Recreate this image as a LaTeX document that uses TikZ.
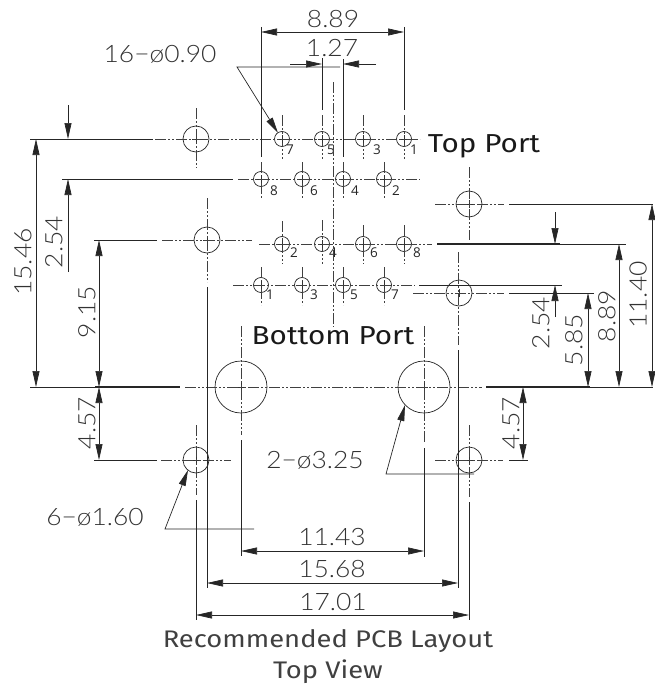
\documentclass[tikz,border=0pt]{standalone}
\usepackage{fontspec}
\usetikzlibrary{arrows.meta}
\setmainfont[FakeStretch=1.14]{Fira Sans}
\newfontfamily\dimfont[FakeStretch=1.1,UprightFont={* Light}]{Lato}
\newfontfamily\pinfont{Open Sans}
\tikzset{
  outline/.style={line width=0.7pt,black!85},
  heavy/.style={line width=1.4pt,black!85},
  centre/.style={line width=0.6pt,black!75,dash pattern=on 11pt off 2pt on 2pt off 2pt on 2pt off 2pt},
  centremark/.style={line width=0.6pt,black!80},
  dimline/.style={line width=0.7pt,black!85,-{Triangle[length=16pt,width=7pt]}},
  dimboth/.style={line width=0.7pt,black!85,{Triangle[length=16pt,width=7pt]}-{Triangle[length=16pt,width=7pt]}},
  dimtext/.style={font=\dimfont\fontsize{24}{24}\selectfont,text=black!80,inner sep=0pt},
  pintext/.style={font=\pinfont\fontsize{13.5}{13.5}\selectfont,text=black!85,inner sep=0pt},
  porttext/.style={font=\fontsize{26}{26}\selectfont,text=black!90,inner sep=0pt},
  titletext/.style={font=\fontsize{24}{24}\selectfont,text=black!75,inner sep=0pt}
}
\begin{document}
\begin{tikzpicture}[x=1pt,y=-1pt]
  \useasboundingbox (0,0) rectangle (654,685);
  % pin holes: x, y, label, label x, label y, top of tick
  \foreach \px/\py/\pnum/\lx/\ly/\ptop in {
      282/139/7/290/150/115, 322/139/5/331/150/115, 363/139/3/377/150/115, 404/139/1/414/150/115,
      261/179/8/274/191/162, 302/179/6/314/191/162, 343/179/4/355/191/162, 384/179/2/396/191/162,
      282/244/2/294/253/221, 322/244/4/333/253/220, 363/244/6/374/253/225, 404/244/8/417/253/225,
      261/285/1/270/295/267, 302/285/3/314/295/267, 343/285/5/354/295/267, 384/285/7/395/295/267}{
    \draw[outline] (\px,\py) circle (7.5);
    \draw[centre] (\px,\ptop) -- (\px,\py+20);
    \draw[centremark] (\px-4,\py) -- (\px+4,\py) (\px,\py-4) -- (\px,\py+4);
    \node[pintext] (pin\px\py) at (\lx,\ly) {\pnum};
  }
  % mounting holes
  \foreach \hx/\hy/\hr in {196/139/13, 469/204/13, 207/240/13, 459/293/13,
      241/387/26, 424/387/26, 196/460/13, 469/460/13}{
    \draw[outline] (\hx,\hy) circle (\hr);
    \draw[centremark] (\hx-4,\hy) -- (\hx+4,\hy) (\hx,\hy-4) -- (\hx,\hy+4);
  }
  % centre lines
  \draw[centre] (155,139) -- (420,139);
  \draw[centre] (238,179) -- (420,179);
  \draw[centre] (162,240) -- (252,240);
  \draw[centre] (259,244) -- (432,244);
  \draw[centre] (233,285) -- (415,285);
  \draw[centre] (413,293) -- (504,293);
  \draw[centre] (435,204) -- (504,204);
  \draw[centre] (185,387) -- (482,387);
  \draw[centre] (161,460) -- (231,460);
  \draw[centre] (435,460) -- (503,460);
  \draw[centre] (333,82) -- (333,327);
  \draw[centre] (196,108) -- (196,168);
  \draw[centre] (207,198) -- (207,282);
  \draw[centre] (241,326) -- (241,435);
  \draw[centre] (424,326) -- (424,443);
  \draw[centre] (458,252) -- (458,345);
  \draw[centre] (469,167) -- (469,240);
  \draw[centre] (469,425) -- (469,497);
  \draw[centre] (196,425) -- (196,495);
  % extension lines
  \draw[outline] (30,139) -- (153,139);
  \draw[outline] (62,179) -- (233,179);
  \draw[outline] (94,240) -- (157,240);
  \draw[heavy] (437,244) -- (560,244);
  \draw[outline] (560,244) -- (626,244);
  \draw[outline] (419,285) -- (562,285);
  \draw[outline] (509,293) -- (594,293);
  \draw[outline] (509,204) -- (653,204);
  \draw[outline] (30,387) -- (95,387);
  \draw[heavy] (95,387) -- (180,387);
  \draw[heavy] (486,387) -- (590,387);
  \draw[outline] (590,387) -- (653,387);
  \draw[outline] (94,460) -- (157,460);
  \draw[outline] (509,460) -- (528,460);
  \draw[outline] (261,27) -- (261,157);
  \draw[outline] (404,27) -- (404,110);
  \draw[outline] (322,58) -- (322,110);
  \draw[outline] (343,59) -- (343,157);
  \draw[outline] (207,287) -- (207,588);
  \draw[outline] (241,440) -- (241,556);
  \draw[outline] (424,448) -- (424,557);
  \draw[outline] (458,350) -- (458,588);
  \draw[outline] (469,502) -- (469,620);
  \draw[outline] (196,500) -- (196,620);
  % dimensions
  \draw[dimboth] (261,32) -- (404,32);
  \draw[dimline] (290,64) -- (322,64);
  \draw[dimline] (376,64) -- (343,64);
  \draw[dimboth] (36,139) -- (36,387);
  \draw[dimline] (68,105) -- (68,139);
  \draw[dimline] (68,272) -- (68,179);
  \draw[dimboth] (99,240) -- (99,387);
  \draw[dimboth] (99,387) -- (99,460);
  \draw[dimline] (555,212) -- (555,244);
  \draw[dimline] (555,317) -- (555,285);
  \draw[dimboth] (588,293) -- (588,387);
  \draw[dimboth] (619,244) -- (619,387);
  \draw[dimboth] (652,204) -- (652,387);
  \draw[dimboth] (523,387) -- (523,460);
  \draw[dimboth] (241,551) -- (424,551);
  \draw[dimboth] (207,583) -- (458,583);
  \draw[dimboth] (196,615) -- (469,615);
  % leaders
  \draw[dimline] (340,67) -- (237,67) -- (278,133);
  \draw[dimline] (254,529) -- (165,529) -- (188,470);
  \draw[dimline] (474,474) -- (386,474) -- (405,405);
  % labels
  \node[dimtext] (topspan) at (333,19) {8.89};
  \node[dimtext] (pitch) at (332,48) {1.27};
  \node[dimtext] (pindia) at (160,54) {16−ø0.90};
  \node[dimtext] (mountdia) at (315,460) {2−ø3.25};
  \node[dimtext] (holedia) at (95,517) {6−ø1.60};
  \node[dimtext,rotate=90] (height) at (23,262) {15.46};
  \node[dimtext,rotate=90] (rowleft) at (54,242) {2.54};
  \node[dimtext,rotate=90] (holeleft) at (87,312) {9.15};
  \node[dimtext,rotate=90] (lowleft) at (87,423) {4.57};
  \node[dimtext,rotate=90] (rowright) at (541,323) {2.54};
  \node[dimtext,rotate=90] (holeright) at (574,340) {5.85};
  \node[dimtext,rotate=90] (rowspan) at (607,316) {8.89};
  \node[dimtext,rotate=90] (topright) at (638,295) {11.40};
  \node[dimtext,rotate=90] (lowright) at (511,423) {4.57};
  \node[dimtext] (inner) at (332,537) {11.43};
  \node[dimtext] (middle) at (332,569) {15.68};
  \node[dimtext] (outer) at (333,602) {17.01};
  \node[porttext] (topport) at (484,146) {Top Port};
  \node[porttext] (botport) at (333,336) {Bottom Port};
  \node[titletext] (title) at (328,641) {Recommended PCB Layout};
  \node[titletext] (view) at (328,672) {Top View};
\end{tikzpicture}
\end{document}
